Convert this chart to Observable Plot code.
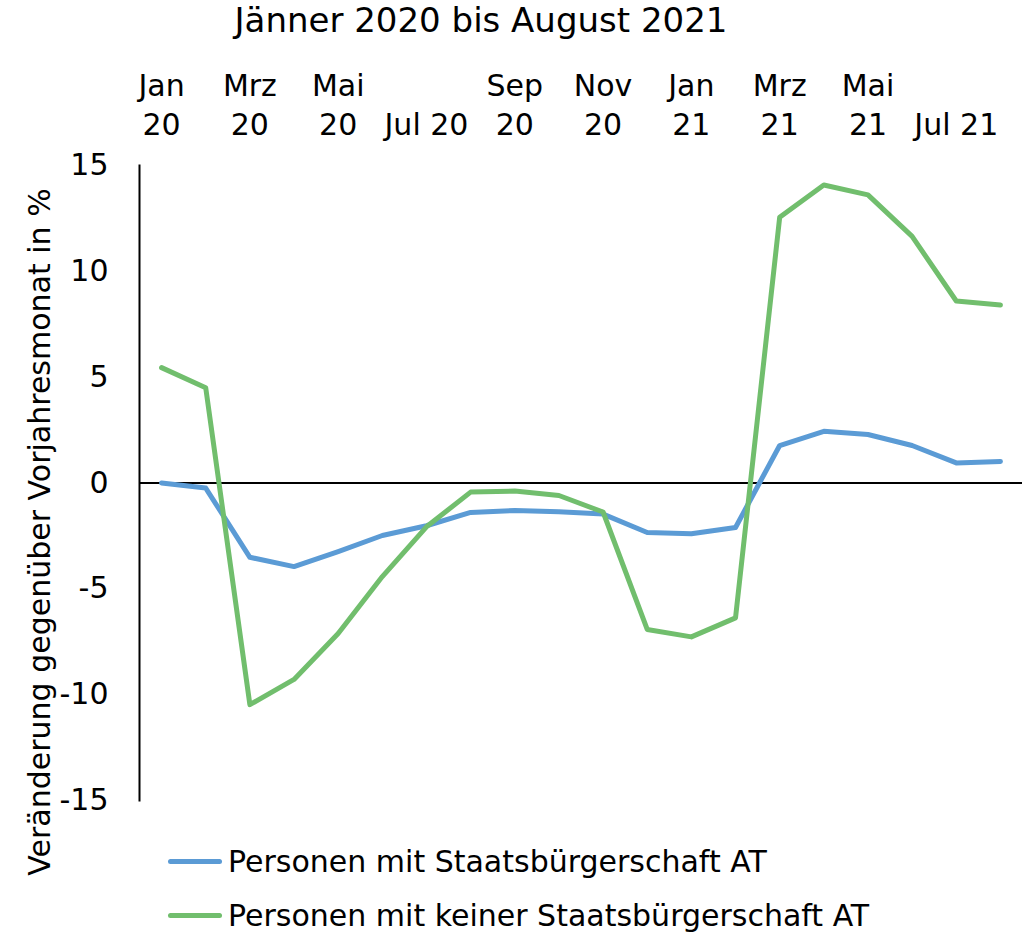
<!DOCTYPE html>
<html>
<head>
<meta charset="utf-8">
<script src="https://cdn.jsdelivr.net/npm/d3@7"></script>
<script src="https://cdn.jsdelivr.net/npm/@observablehq/plot@0.6"></script>
<style>
  body { margin: 0; background: #fff; font-family: "DejaVu Sans", sans-serif; color: #000; }
  #wrap { width: 1033px; height: 933px; overflow: hidden; }
  #title { width: 962px; height: 50px; text-align: center; font-size: 34px; line-height: 40px; }
  #chart { height: 770px; }
  #chart svg { display: block; }
  #legend { padding-top: 14px; padding-left: 168px; font-size: 30px; }
  .item { display: flex; align-items: center; height: 54px; }
  .sw { width: 54px; height: 5px; border-radius: 3px; margin-right: 6px; }
</style>
</head>
<body>
<div id="wrap">
  <div id="title"></div>
  <div id="chart"></div>
  <div id="legend"></div>
</div>
<script>
const titleText = "Jänner 2020 bis August 2021";
const yLabel = "Veränderung gegenüber Vorjahresmonat in %";

const months = ["Jan 20","Feb 20","Mrz 20","Apr 20","Mai 20","Jun 20","Jul 20","Aug 20","Sep 20","Okt 20",
                "Nov 20","Dez 20","Jan 21","Feb 21","Mrz 21","Apr 21","Mai 21","Jun 21","Jul 21","Aug 21"];
const tickIndex = [0, 2, 4, 6, 8, 10, 12, 14, 16, 18];
const tickLabels = ["Jan\n20","Mrz\n20","Mai\n20","Jul 20","Sep\n20","Nov\n20","Jan\n21","Mrz\n21","Mai\n21","Jul 21"];
const yTicks = [-15, -10, -5, 0, 5, 10, 15];

const seriesNames = ["Personen mit Staatsbürgerschaft AT", "Personen mit keiner Staatsbürgerschaft AT"];
const seriesColors = ["#5B9BD5", "#71BE6D"];

const withAT = [0.0, -0.24, -3.51, -3.95, -3.24, -2.48, -2.02, -1.39, -1.30, -1.36,
                -1.47, -2.34, -2.40, -2.10, 1.77, 2.44, 2.29, 1.77, 0.95, 1.02];
const withoutAT = [5.45, 4.50, -10.47, -9.28, -7.11, -4.42, -2.07, -0.43, -0.38, -0.59,
                   -1.37, -6.92, -7.27, -6.37, 12.55, 14.08, 13.61, 11.65, 8.60, 8.41];

const rows = [];
[withAT, withoutAT].forEach((vals, s) => {
  vals.forEach((v, i) => rows.push({ i, month: months[i], value: v, series: seriesNames[s] }));
});

document.getElementById("title").textContent = titleText;

const chart = Plot.plot({
  width: 1033,
  height: 770,
  marginTop: 115,
  marginBottom: 20,
  marginLeft: 139,
  marginRight: 11,
  style: { fontFamily: "DejaVu Sans, sans-serif", fontSize: "30px", color: "#000", background: "#fff", overflow: "visible" },
  x: { domain: [-0.5, 19.5] },
  y: { domain: [-15, 15] },
  color: { domain: seriesNames, range: seriesColors },
  marks: [
    Plot.axisY({ ticks: yTicks, tickSize: 0, tickPadding: 31, tickFormat: d => String(d), label: null, fontSize: 30 }),
    Plot.axisX({ anchor: "top", ticks: tickIndex, tickSize: 0, tickPadding: 31, lineHeight: 1.3,
                 tickFormat: d => tickLabels[tickIndex.indexOf(d)], label: null, fontSize: 30 }),
    Plot.frame({ anchor: "left", stroke: "#000", strokeWidth: 2 }),
    Plot.ruleY([0], { stroke: "#000", strokeWidth: 2 }),
    Plot.line(rows, { x: "i", y: "value", z: "series", stroke: "series", strokeWidth: 5 }),
    Plot.text([yLabel], { frameAnchor: "left", textAnchor: "middle", lineAnchor: "middle", rotate: -90,
                          dx: -99, dy: 49, fontSize: 30, fill: "#000" })
  ]
});
document.getElementById("chart").appendChild(chart);

const legend = document.getElementById("legend");
seriesNames.forEach((name, k) => {
  const item = document.createElement("div");
  item.className = "item";
  const sw = document.createElement("span");
  sw.className = "sw";
  sw.style.background = seriesColors[k];
  const label = document.createElement("span");
  label.textContent = name;
  item.appendChild(sw);
  item.appendChild(label);
  legend.appendChild(item);
});
</script>
</body>
</html>
